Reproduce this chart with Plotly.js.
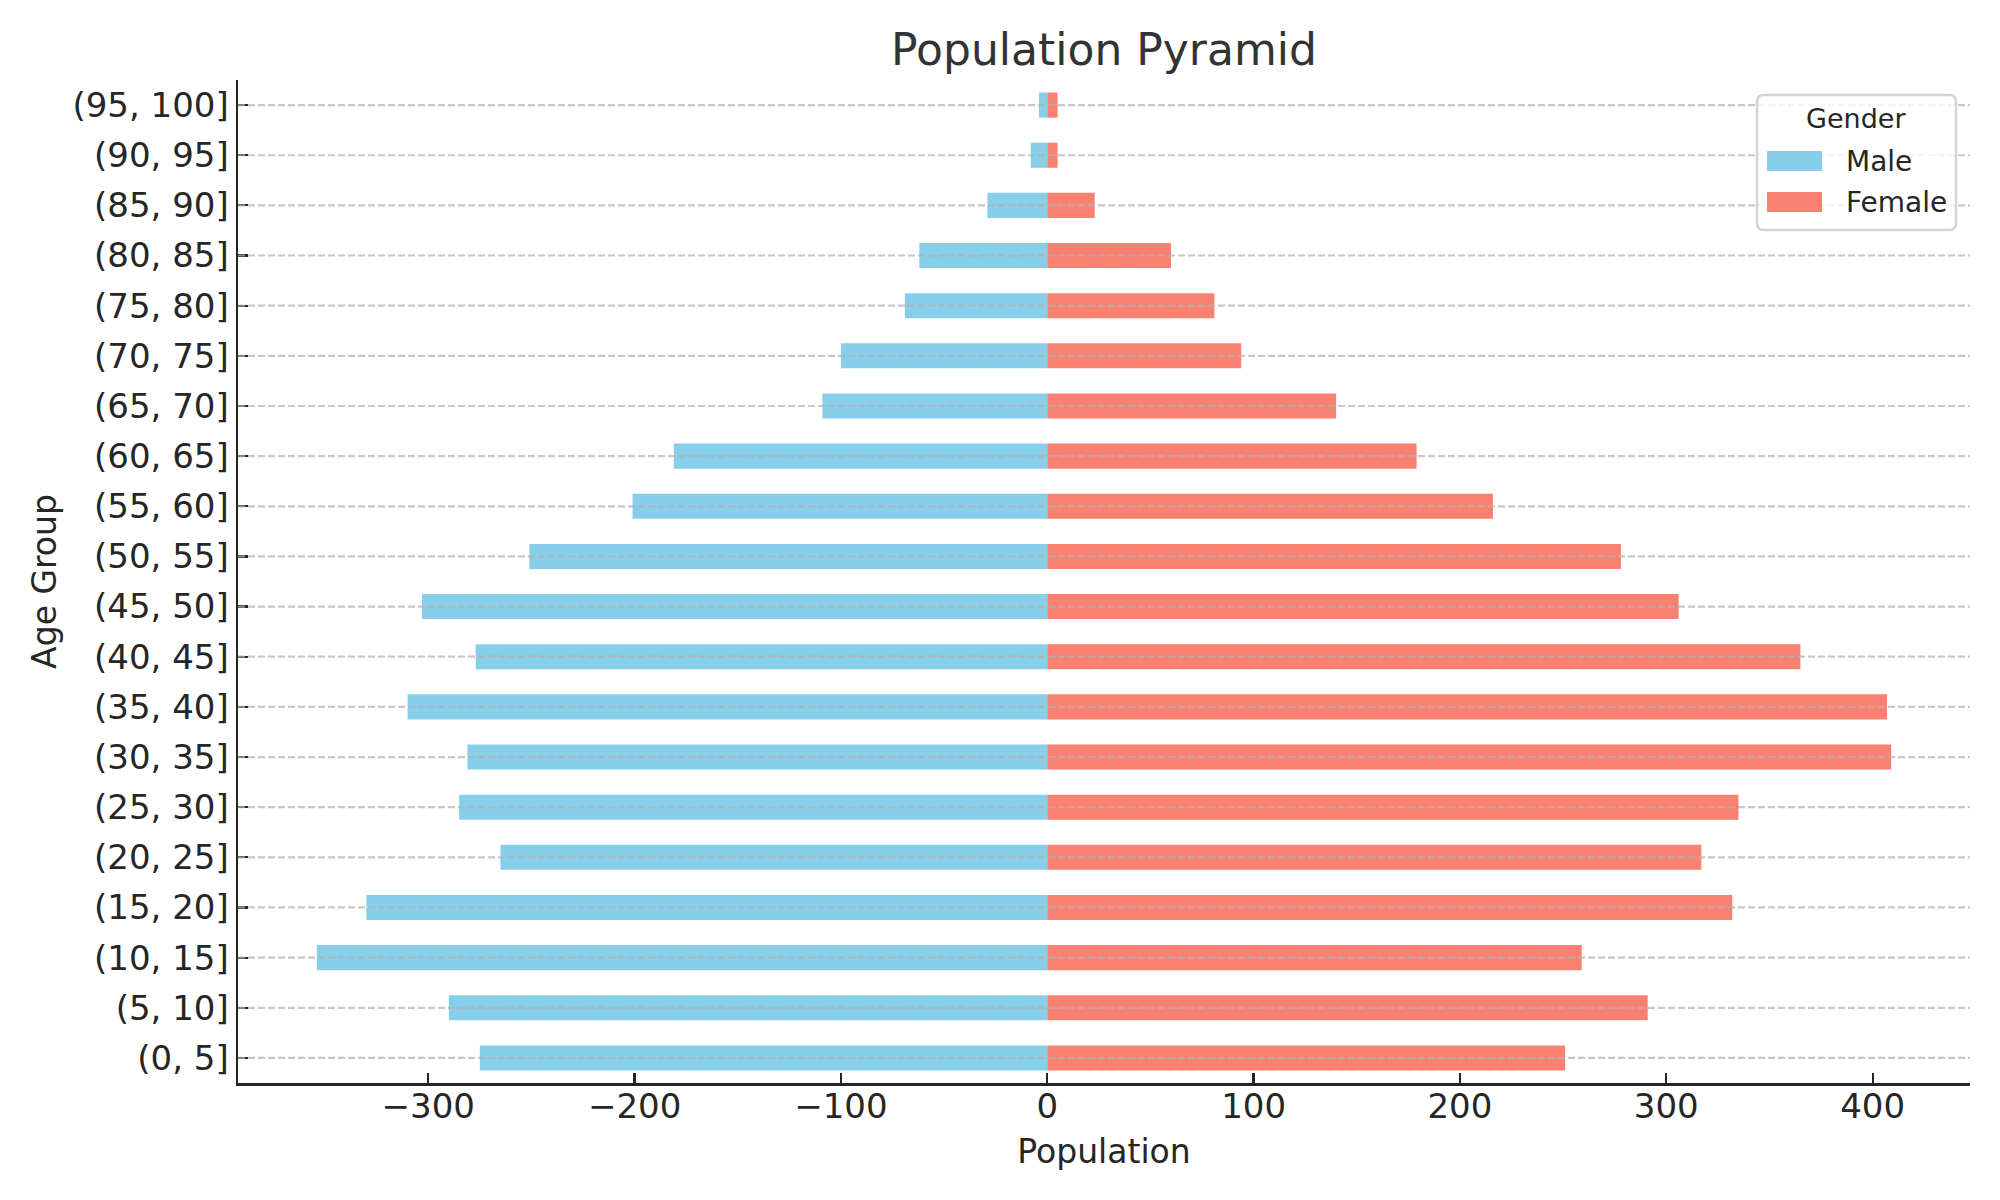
<!DOCTYPE html>
<html>
<head>
<meta charset="utf-8">
<script src="https://cdn.plot.ly/plotly-3.0.1.min.js"></script>
<style>html,body{margin:0;padding:0;background:#fff;}#chart{width:2000px;height:1200px;}</style>
</head>
<body>
<div id="chart"></div>
<script>
const ageGroups = ['(0, 5]','(5, 10]','(10, 15]','(15, 20]','(20, 25]','(25, 30]','(30, 35]','(35, 40]','(40, 45]','(45, 50]','(50, 55]','(55, 60]','(60, 65]','(65, 70]','(70, 75]','(75, 80]','(80, 85]','(85, 90]','(90, 95]','(95, 100]'];
const maleValues = [-275, -290, -354, -330, -265, -285, -281, -310, -277, -303, -251, -201, -181, -109, -100, -69, -62, -29, -8, -4];
const femaleValues = [251, 291, 259, 332, 317, 335, 409, 407, 365, 306, 278, 216, 179, 140, 94, 81, 60, 23, 5, 5];
const xTickValues = [-300, -200, -100, 0, 100, 200, 300, 400];
const seriesNames = ['Male', 'Female'];
const seriesColors = ['#87CEEB', '#FA8072'];
const legendTitle = 'Gender';

const font = "DejaVu Sans, Liberation Sans, sans-serif";
const W = 2000, H = 1200;
const M = {l:238, r:30, t:80, b:117};
const PW = W - M.l - M.r, PH = H - M.t - M.b;
const px = v => (v - M.l) / PW;          // pixel x -> paper x
const py = v => (H - M.b - v) / PH;      // pixel y -> paper y

const traces = [
  {type:'bar', orientation:'h', name:seriesNames[0], y:ageGroups, x:maleValues, width:0.5,
   marker:{color:seriesColors[0], line:{width:0}}},
  {type:'bar', orientation:'h', name:seriesNames[1], y:ageGroups, x:femaleValues, width:0.5,
   marker:{color:seriesColors[1], line:{width:0}}}
];

const shapes = ageGroups.map(g => ({
  type:'line', xref:'paper', yref:'y', x0:0, x1:1, y0:g, y1:g, layer:'above',
  line:{color:'rgba(176,176,176,0.7)', width:2.2, dash:'7px,3px'}
}));

// legend box (rounded)
const bx0 = 1757, bx1 = 1956, by0 = 95, by1 = 230, r = 7;
const P = (x, y) => px(x) + ',' + py(y);
const boxPath = 'M' + P(bx0 + r, by0) + ' L' + P(bx1 - r, by0) + ' Q' + P(bx1, by0) + ' ' + P(bx1, by0 + r) +
  ' L' + P(bx1, by1 - r) + ' Q' + P(bx1, by1) + ' ' + P(bx1 - r, by1) +
  ' L' + P(bx0 + r, by1) + ' Q' + P(bx0, by1) + ' ' + P(bx0, by1 - r) +
  ' L' + P(bx0, by0 + r) + ' Q' + P(bx0, by0) + ' ' + P(bx0 + r, by0) + ' Z';
shapes.push({type:'path', xref:'paper', yref:'paper', path:boxPath, layer:'above',
  fillcolor:'rgba(255,255,255,0.8)', line:{color:'#d4d4d4', width:2.5}});

const rowY = [161, 202];
const annotations = [
  {xref:'paper', yref:'paper', x:px(1856), y:py(119), text:legendTitle, showarrow:false,
   xanchor:'center', yanchor:'middle', font:{family:font, size:27, color:'#262626'}}
];
seriesNames.forEach((n, i) => {
  shapes.push({type:'rect', xref:'paper', yref:'paper', layer:'above',
    x0:px(1767), x1:px(1822), y0:py(rowY[i] - 10), y1:py(rowY[i] + 10),
    fillcolor:seriesColors[i], line:{width:0}});
  annotations.push({xref:'paper', yref:'paper', x:px(1844), y:py(rowY[i]), text:n, showarrow:false,
    xanchor:'left', yanchor:'middle', font:{family:font, size:28, color:'#262626'}});
});

const layout = {
  width:W, height:H,
  paper_bgcolor:'#ffffff', plot_bgcolor:'#ffffff',
  margin:{l:M.l, r:M.r, t:M.t, b:M.b, pad:0},
  barmode:'overlay',
  font:{family:font, color:'#262626', size:33},
  title:{text:'Population Pyramid', font:{family:font, size:44, color:'#333333'},
         x:0.5, xanchor:'center', xref:'paper', y:0.959, yanchor:'middle', yref:'container'},
  xaxis:{range:[-392.2, 447.2], tickvals:xTickValues, showgrid:false, zeroline:false,
         showline:true, linecolor:'#262626', linewidth:2.5, mirror:false,
         ticks:'inside', ticklen:10, tickwidth:2.2, tickcolor:'#262626', ticklabelstandoff:-8,
         tickfont:{size:34, color:'#262626', family:font},
         title:{text:'Population', font:{size:33, color:'#262626', family:font}, standoff:15},
         automargin:false},
  yaxis:{type:'category', categoryorder:'array', categoryarray:ageGroups, range:[-0.5, 19.5],
         showgrid:false, zeroline:false, showline:true, linecolor:'#262626', linewidth:2.5,
         ticks:'inside', ticklen:10, tickwidth:2.2, tickcolor:'#262626',
         tickfont:{size:34, color:'#262626', family:font},
         title:{text:'Age Group', font:{size:33, color:'#262626', family:font}, standoff:6},
         automargin:false},
  shapes:shapes,
  annotations:annotations,
  showlegend:false
};

Plotly.newPlot('chart', traces, layout, {displayModeBar:false, staticPlot:true});
</script>
</body>
</html>
